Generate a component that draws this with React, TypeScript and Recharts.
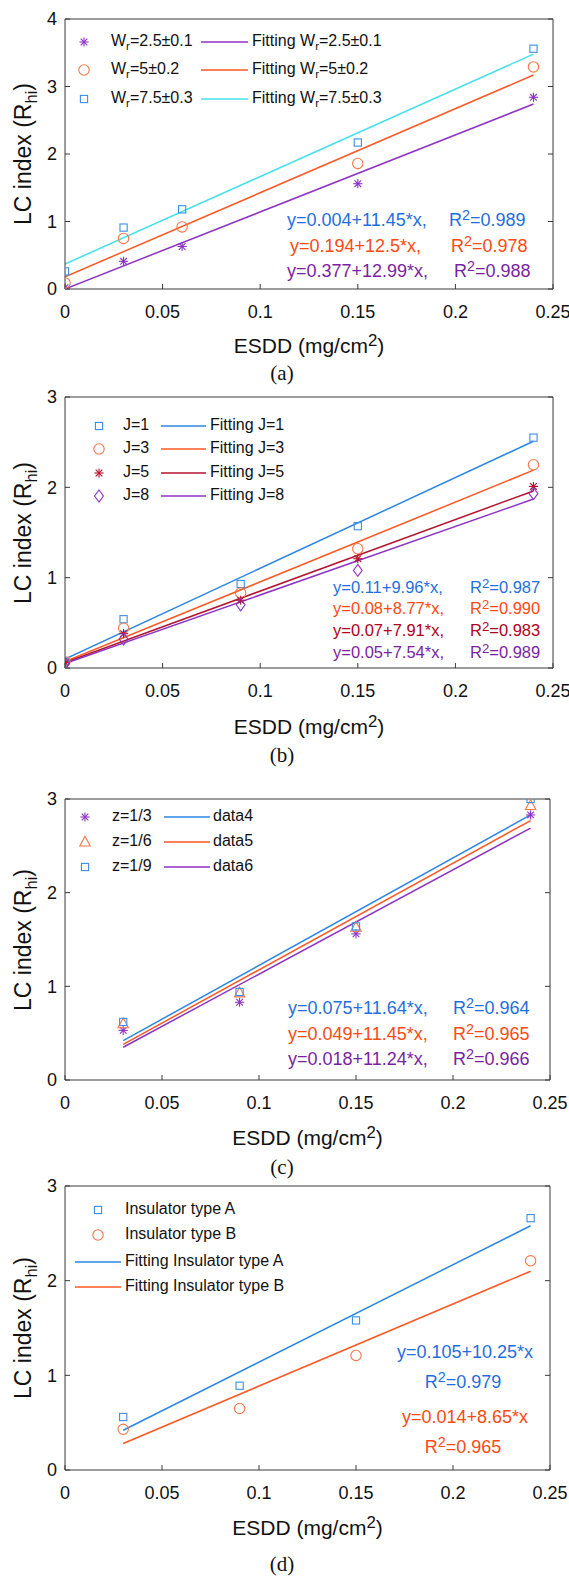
import React from 'react';
import { ComposedChart, XAxis, YAxis, Line, Scatter, Legend } from 'recharts';

// shared axis ticks
const xTicks = [0, 0.05, 0.1, 0.15, 0.2, 0.25];
const yTicks4 = [0, 1, 2, 3, 4];
const yTicks3 = [0, 1, 2, 3];

// (a) contamination width ratio
const esddA = [0, 0.03, 0.06, 0.15, 0.24];
const wr25 = [0.02, 0.41, 0.63, 1.56, 2.84];
const wr5 = [0.09, 0.75, 0.92, 1.86, 3.29];
const wr75 = [0.26, 0.91, 1.18, 2.17, 3.56];
const fitXA = [0, 0.24];
const fitWr25 = [0.0, 2.74];
const fitWr5 = [0.18, 3.17];
const fitWr75 = [0.37, 3.48];

// (b) J
const esddB = [0, 0.03, 0.09, 0.15, 0.24];
const j1 = [0.07, 0.54, 0.93, 1.57, 2.55];
const j3 = [0.07, 0.44, 0.83, 1.32, 2.25];
const j5 = [0.06, 0.38, 0.75, 1.21, 2.01];
const j8 = [0.05, 0.32, 0.7, 1.08, 1.93];
const fitXB = [0, 0.24];
const fitJ1 = [0.1, 2.51];
const fitJ3 = [0.07, 2.19];
const fitJ5 = [0.06, 1.96];
const fitJ8 = [0.05, 1.87];

// (c) z
const esddC = [0.03, 0.09, 0.15, 0.24];
const z3 = [0.53, 0.83, 1.56, 2.83];
const z6 = [0.6, 0.93, 1.63, 2.93];
const z9 = [0.62, 0.94, 1.64, 3.0];
const fitXC = [0.03, 0.24];
const data4 = [0.42, 2.83];
const data5 = [0.38, 2.77];
const data6 = [0.35, 2.69];

// (d) insulator type
const esddD = [0.03, 0.09, 0.15, 0.24];
const typeA = [0.56, 0.89, 1.58, 2.66];
const typeB = [0.43, 0.65, 1.21, 2.21];
const fitXD = [0.03, 0.24];
const fitA = [0.42, 2.58];
const fitB = [0.28, 2.1];

const SANS = '"Liberation Sans", Arial, sans-serif';
const SERIF = '"Liberation Serif", "Times New Roman", serif';
const AXIS = '#3a3a3a';

const PURPLE = '#8e32c4';
const ORANGE = '#ff5722';
const ORANGE_MK = '#f4764a';
const BLUE = '#2b86e6';
const BLUE_MK = '#3a8ee8';
const CYAN = '#44e0ec';
const DARKRED = '#b5122e';

const TXT_BLUE = '#1f6fe0';
const TXT_ORANGE = '#ff4a12';
const TXT_PURPLE = '#7b1fa2';
const TXT_RED = '#b00020';

type Kind = 'star' | 'circle' | 'square' | 'diamond' | 'triangle';

const toPts = (xs: number[], ys: number[]) => xs.map((x, i) => ({ x, y: ys[i] }));

const Marker = ({ kind, cx, cy, color }: { kind: Kind; cx: number; cy: number; color: string }) => {
  const p = { fill: 'none', stroke: color, strokeWidth: 1.1 };
  if (kind === 'star') {
    const r = 4.6;
    const d = r * 0.72;
    return (
      <g {...p}>
        <line x1={cx - r} y1={cy} x2={cx + r} y2={cy} />
        <line x1={cx} y1={cy - r} x2={cx} y2={cy + r} />
        <line x1={cx - d} y1={cy - d} x2={cx + d} y2={cy + d} />
        <line x1={cx - d} y1={cy + d} x2={cx + d} y2={cy - d} />
      </g>
    );
  }
  if (kind === 'circle') return <circle cx={cx} cy={cy} r={5.2} {...p} />;
  if (kind === 'square') return <rect x={cx - 3.6} y={cy - 3.6} width={7.2} height={7.2} {...p} />;
  if (kind === 'diamond')
    return <polygon points={`${cx},${cy - 6} ${cx + 4.4},${cy} ${cx},${cy + 6} ${cx - 4.4},${cy}`} {...p} />;
  return <polygon points={`${cx},${cy - 5.8} ${cx + 5.2},${cy + 4} ${cx - 5.2},${cy + 4}`} {...p} />;
};

const Sub = ({ children }: { children: React.ReactNode }) => (
  <span style={{ fontSize: '0.72em', position: 'relative', top: '0.38em' }}>{children}</span>
);
const Sup = ({ children }: { children: React.ReactNode }) => (
  <span style={{ fontSize: '0.8em', position: 'relative', top: '-0.4em' }}>{children}</span>
);
const Wr = ({ v }: { v: string }) => (
  <>
    W<Sub>r</Sub>={v}
  </>
);

interface MarkSeries { name: string; kind: Kind; color: string; xs: number[]; ys: number[] }
interface FitSeries { name: string; color: string; xs: number[]; ys: number[] }
interface LegendItem { type: 'marker' | 'line'; kind?: Kind; color: string; x: number; x2?: number; tx: number; y: number; label: React.ReactNode }
interface EqLine { color: string; y: number; x?: number; text: React.ReactNode; rx?: number; r2?: string; center?: number }

interface PanelCfg {
  tag: string;
  plotTop: number;
  plotBottom: number;
  plotRight: number;
  yMax: number;
  yTicks: number[];
  marks: MarkSeries[];
  fits: FitSeries[];
  legend: LegendItem[];
  legendSize: number;
  eqs: EqLine[];
  eqSize: number;
  xLabelY: number;
  tagY: number;
}

const TOP_H = 18;
const BOTTOM_H = 40;
const PLOT_LEFT = 65;

const LegendBody = ({ items, top, size }: { items: LegendItem[]; top: number; size: number }) => (
  <div style={{ position: 'relative', width: 0, height: 0, fontFamily: SANS, fontSize: size, color: '#111' }}>
    <svg style={{ position: 'absolute', left: 0, top: 0, overflow: 'visible' }} width={1} height={1}>
      {items.map((it, i) =>
        it.type === 'marker' ? (
          <Marker key={i} kind={it.kind as Kind} cx={it.x} cy={it.y - top} color={it.color} />
        ) : (
          <line key={i} x1={it.x} x2={it.x2} y1={it.y - top} y2={it.y - top} stroke={it.color} strokeWidth={1.5} />
        )
      )}
    </svg>
    {items.map((it, i) => (
      <div
        key={i}
        style={{ position: 'absolute', left: it.tx, top: it.y - top, transform: 'translateY(-55%)', whiteSpace: 'nowrap', lineHeight: 1 }}
      >
        {it.label}
      </div>
    ))}
  </div>
);

const Panel = ({ cfg }: { cfg: PanelCfg }) => {
  const top = cfg.plotTop - TOP_H;
  const h = cfg.plotBottom - cfg.plotTop + TOP_H + BOTTOM_H;
  const rightW = 569 - cfg.plotRight;
  const tickStyle = { fill: '#111', fontSize: 18, fontFamily: SANS };
  const eqStyle = { position: 'absolute' as const, fontFamily: SANS, fontSize: cfg.eqSize, whiteSpace: 'nowrap' as const, lineHeight: 1 };
  return (
    <>
      <div style={{ position: 'absolute', left: 0, top }}>
        <ComposedChart width={569} height={h} margin={{ top: 0, right: 0, bottom: 0, left: 0 }}>
          <XAxis
            xAxisId="b"
            dataKey="x"
            type="number"
            domain={[0, 0.25]}
            ticks={xTicks}
            allowDataOverflow
            height={BOTTOM_H}
            tickSize={-5}
            tickMargin={21}
            axisLine={{ stroke: AXIS }}
            tickLine={{ stroke: AXIS }}
            tick={tickStyle}
            interval={0}
          />
          <XAxis
            xAxisId="t"
            orientation="top"
            type="number"
            domain={[0, 0.25]}
            ticks={xTicks}
            allowDataOverflow
            height={TOP_H}
            tickSize={-5}
            tickFormatter={() => ''}
            axisLine={{ stroke: AXIS }}
            tickLine={{ stroke: AXIS }}
            interval={0}
          />
          <YAxis
            yAxisId="l"
            type="number"
            domain={[0, cfg.yMax]}
            ticks={cfg.yTicks}
            allowDataOverflow
            width={PLOT_LEFT}
            tickSize={-5}
            tickMargin={13}
            axisLine={{ stroke: AXIS }}
            tickLine={{ stroke: AXIS }}
            tick={tickStyle}
            interval={0}
          />
          <YAxis
            yAxisId="r"
            orientation="right"
            type="number"
            domain={[0, cfg.yMax]}
            ticks={cfg.yTicks}
            allowDataOverflow
            width={rightW}
            tickSize={-5}
            tickFormatter={() => ''}
            axisLine={{ stroke: AXIS }}
            tickLine={{ stroke: AXIS }}
            interval={0}
          />
          {cfg.fits.map((f) => (
            <Line
              key={f.name}
              name={f.name}
              xAxisId="b"
              yAxisId="l"
              data={toPts(f.xs, f.ys)}
              dataKey="y"
              type="linear"
              stroke={f.color}
              strokeWidth={1.5}
              dot={false}
              activeDot={false}
              isAnimationActive={false}
            />
          ))}
          {cfg.marks.map((m) => (
            <Scatter
              key={m.name}
              name={m.name}
              xAxisId="b"
              yAxisId="l"
              data={toPts(m.xs, m.ys)}
              dataKey="y"
              isAnimationActive={false}
              shape={(p: any) => <Marker kind={m.kind} cx={p.cx} cy={p.cy} color={m.color} />}
            />
          ))}
          <Legend
            layout="horizontal"
            verticalAlign="middle"
            align="center"
            wrapperStyle={{ left: 0, top: 0, width: 0, height: 0 }}
            content={() => <LegendBody items={cfg.legend} top={top} size={cfg.legendSize} />}
          />
        </ComposedChart>
      </div>
      {cfg.eqs.map((e, i) =>
        e.center !== undefined ? (
          <div key={i} style={{ ...eqStyle, left: e.center, top: e.y, transform: 'translate(-50%, -55%)', color: e.color }}>
            {e.text}
          </div>
        ) : (
          <React.Fragment key={i}>
            <div style={{ ...eqStyle, left: e.x, top: e.y, transform: 'translateY(-55%)', color: e.color }}>{e.text}</div>
            <div style={{ ...eqStyle, left: e.rx, top: e.y, transform: 'translateY(-55%)', color: e.color }}>
              R<Sup>2</Sup>={e.r2}
            </div>
          </React.Fragment>
        )
      )}
      <div
        style={{ position: 'absolute', left: 23, top: (cfg.plotTop + cfg.plotBottom) / 2, transform: 'translate(-50%, -50%) rotate(-90deg)', fontFamily: SANS, fontSize: 23, whiteSpace: 'nowrap', lineHeight: 1, color: '#111' }}
      >
        LC index (R<Sub>hi</Sub>)
      </div>
      <div
        style={{ position: 'absolute', left: (PLOT_LEFT + cfg.plotRight) / 2, top: cfg.xLabelY, transform: 'translate(-50%, -50%)', fontFamily: SANS, fontSize: 21, whiteSpace: 'nowrap', lineHeight: 1, color: '#111' }}
      >
        ESDD (mg/cm<Sup>2</Sup>)
      </div>
      <div
        style={{ position: 'absolute', left: 282, top: cfg.tagY, transform: 'translate(-50%, -50%)', fontFamily: SERIF, fontSize: 21, whiteSpace: 'nowrap', lineHeight: 1, color: '#111' }}
      >
        {cfg.tag}
      </div>
    </>
  );
};

const panels: PanelCfg[] = [
  {
    tag: '(a)',
    plotTop: 19,
    plotBottom: 289,
    plotRight: 553,
    yMax: 4,
    yTicks: yTicks4,
    marks: [
      { name: 'Wr=2.5±0.1', kind: 'star', color: PURPLE, xs: esddA, ys: wr25 },
      { name: 'Wr=5±0.2', kind: 'circle', color: ORANGE_MK, xs: esddA, ys: wr5 },
      { name: 'Wr=7.5±0.3', kind: 'square', color: BLUE_MK, xs: esddA, ys: wr75 },
    ],
    fits: [
      { name: 'Fitting Wr=2.5±0.1', color: PURPLE, xs: fitXA, ys: fitWr25 },
      { name: 'Fitting Wr=5±0.2', color: ORANGE, xs: fitXA, ys: fitWr5 },
      { name: 'Fitting Wr=7.5±0.3', color: CYAN, xs: fitXA, ys: fitWr75 },
    ],
    legend: [
      { type: 'marker', kind: 'star', color: PURPLE, x: 84, tx: 111, y: 42, label: <Wr v="2.5±0.1" /> },
      { type: 'marker', kind: 'circle', color: ORANGE_MK, x: 84, tx: 111, y: 70, label: <Wr v="5±0.2" /> },
      { type: 'marker', kind: 'square', color: BLUE_MK, x: 84, tx: 111, y: 99, label: <Wr v="7.5±0.3" /> },
      { type: 'line', color: PURPLE, x: 201, x2: 248, tx: 252, y: 42, label: <>Fitting <Wr v="2.5±0.1" /></> },
      { type: 'line', color: ORANGE, x: 201, x2: 248, tx: 252, y: 70, label: <>Fitting <Wr v="5±0.2" /></> },
      { type: 'line', color: CYAN, x: 201, x2: 248, tx: 252, y: 99, label: <>Fitting <Wr v="7.5±0.3" /></> },
    ],
    legendSize: 16,
    eqs: [
      { color: TXT_BLUE, x: 287, y: 221, text: 'y=0.004+11.45*x,', rx: 449, r2: '0.989' },
      { color: TXT_ORANGE, x: 290, y: 247, text: 'y=0.194+12.5*x,', rx: 451, r2: '0.978' },
      { color: TXT_PURPLE, x: 287, y: 272, text: 'y=0.377+12.99*x,', rx: 454, r2: '0.988' },
    ],
    eqSize: 18,
    xLabelY: 346,
    tagY: 373,
  },
  {
    tag: '(b)',
    plotTop: 397,
    plotBottom: 668,
    plotRight: 553,
    yMax: 3,
    yTicks: yTicks3,
    marks: [
      { name: 'J=1', kind: 'square', color: BLUE_MK, xs: esddB, ys: j1 },
      { name: 'J=3', kind: 'circle', color: ORANGE_MK, xs: esddB, ys: j3 },
      { name: 'J=5', kind: 'star', color: DARKRED, xs: esddB, ys: j5 },
      { name: 'J=8', kind: 'diamond', color: PURPLE, xs: esddB, ys: j8 },
    ],
    fits: [
      { name: 'Fitting J=1', color: BLUE, xs: fitXB, ys: fitJ1 },
      { name: 'Fitting J=3', color: ORANGE, xs: fitXB, ys: fitJ3 },
      { name: 'Fitting J=5', color: DARKRED, xs: fitXB, ys: fitJ5 },
      { name: 'Fitting J=8', color: PURPLE, xs: fitXB, ys: fitJ8 },
    ],
    legend: [
      { type: 'marker', kind: 'square', color: BLUE_MK, x: 99, tx: 123, y: 426, label: 'J=1' },
      { type: 'marker', kind: 'circle', color: ORANGE_MK, x: 99, tx: 123, y: 449, label: 'J=3' },
      { type: 'marker', kind: 'star', color: DARKRED, x: 99, tx: 123, y: 473, label: 'J=5' },
      { type: 'marker', kind: 'diamond', color: PURPLE, x: 99, tx: 123, y: 496, label: 'J=8' },
      { type: 'line', color: BLUE, x: 161, x2: 206, tx: 210, y: 426, label: 'Fitting J=1' },
      { type: 'line', color: ORANGE, x: 161, x2: 206, tx: 210, y: 449, label: 'Fitting J=3' },
      { type: 'line', color: DARKRED, x: 161, x2: 206, tx: 210, y: 473, label: 'Fitting J=5' },
      { type: 'line', color: PURPLE, x: 161, x2: 206, tx: 210, y: 496, label: 'Fitting J=8' },
    ],
    legendSize: 16,
    eqs: [
      { color: TXT_BLUE, x: 333, y: 588, text: 'y=0.11+9.96*x,', rx: 470, r2: '0.987' },
      { color: TXT_ORANGE, x: 333, y: 609, text: 'y=0.08+8.77*x,', rx: 470, r2: '0.990' },
      { color: TXT_RED, x: 333, y: 631, text: 'y=0.07+7.91*x,', rx: 470, r2: '0.983' },
      { color: TXT_PURPLE, x: 333, y: 653, text: 'y=0.05+7.54*x,', rx: 470, r2: '0.989' },
    ],
    eqSize: 16.5,
    xLabelY: 727,
    tagY: 755,
  },
  {
    tag: '(c)',
    plotTop: 799,
    plotBottom: 1080,
    plotRight: 550,
    yMax: 3,
    yTicks: yTicks3,
    marks: [
      { name: 'z=1/3', kind: 'star', color: PURPLE, xs: esddC, ys: z3 },
      { name: 'z=1/6', kind: 'triangle', color: ORANGE_MK, xs: esddC, ys: z6 },
      { name: 'z=1/9', kind: 'square', color: BLUE_MK, xs: esddC, ys: z9 },
    ],
    fits: [
      { name: 'data4', color: BLUE, xs: fitXC, ys: data4 },
      { name: 'data5', color: ORANGE, xs: fitXC, ys: data5 },
      { name: 'data6', color: PURPLE, xs: fitXC, ys: data6 },
    ],
    legend: [
      { type: 'marker', kind: 'star', color: PURPLE, x: 85, tx: 112, y: 817, label: 'z=1/3' },
      { type: 'marker', kind: 'triangle', color: ORANGE_MK, x: 85, tx: 112, y: 842, label: 'z=1/6' },
      { type: 'marker', kind: 'square', color: BLUE_MK, x: 85, tx: 112, y: 867, label: 'z=1/9' },
      { type: 'line', color: BLUE, x: 164, x2: 210, tx: 213, y: 817, label: 'data4' },
      { type: 'line', color: ORANGE, x: 164, x2: 210, tx: 213, y: 842, label: 'data5' },
      { type: 'line', color: PURPLE, x: 164, x2: 210, tx: 213, y: 867, label: 'data6' },
    ],
    legendSize: 16,
    eqs: [
      { color: TXT_BLUE, x: 288, y: 1009, text: 'y=0.075+11.64*x,', rx: 453, r2: '0.964' },
      { color: TXT_ORANGE, x: 288, y: 1035, text: 'y=0.049+11.45*x,', rx: 453, r2: '0.965' },
      { color: TXT_PURPLE, x: 288, y: 1060, text: 'y=0.018+11.24*x,', rx: 453, r2: '0.966' },
    ],
    eqSize: 18,
    xLabelY: 1138,
    tagY: 1167,
  },
  {
    tag: '(d)',
    plotTop: 1186,
    plotBottom: 1470,
    plotRight: 550,
    yMax: 3,
    yTicks: yTicks3,
    marks: [
      { name: 'Insulator type A', kind: 'square', color: BLUE_MK, xs: esddD, ys: typeA },
      { name: 'Insulator type B', kind: 'circle', color: ORANGE_MK, xs: esddD, ys: typeB },
    ],
    fits: [
      { name: 'Fitting Insulator type A', color: BLUE, xs: fitXD, ys: fitA },
      { name: 'Fitting Insulator type B', color: ORANGE, xs: fitXD, ys: fitB },
    ],
    legend: [
      { type: 'marker', kind: 'square', color: BLUE_MK, x: 98, tx: 125, y: 1210, label: 'Insulator type A' },
      { type: 'marker', kind: 'circle', color: ORANGE_MK, x: 98, tx: 125, y: 1235, label: 'Insulator type B' },
      { type: 'line', color: BLUE, x: 75, x2: 121, tx: 125, y: 1262, label: 'Fitting Insulator type A' },
      { type: 'line', color: ORANGE, x: 75, x2: 121, tx: 125, y: 1287, label: 'Fitting Insulator type B' },
    ],
    legendSize: 16,
    eqs: [
      { color: TXT_BLUE, center: 465, y: 1353, text: 'y=0.105+10.25*x' },
      { color: TXT_BLUE, center: 463, y: 1383, text: <>R<Sup>2</Sup>=0.979</> },
      { color: TXT_ORANGE, center: 465, y: 1418, text: 'y=0.014+8.65*x' },
      { color: TXT_ORANGE, center: 463, y: 1448, text: <>R<Sup>2</Sup>=0.965</> },
    ],
    eqSize: 18,
    xLabelY: 1528,
    tagY: 1564,
  },
];

export default function App() {
  return (
    <div style={{ position: 'absolute', left: 0, top: 0, width: 569, height: 1577, background: '#fff', overflow: 'hidden' }}>
      {panels.map((p) => (
        <Panel key={p.tag} cfg={p} />
      ))}
    </div>
  );
}
